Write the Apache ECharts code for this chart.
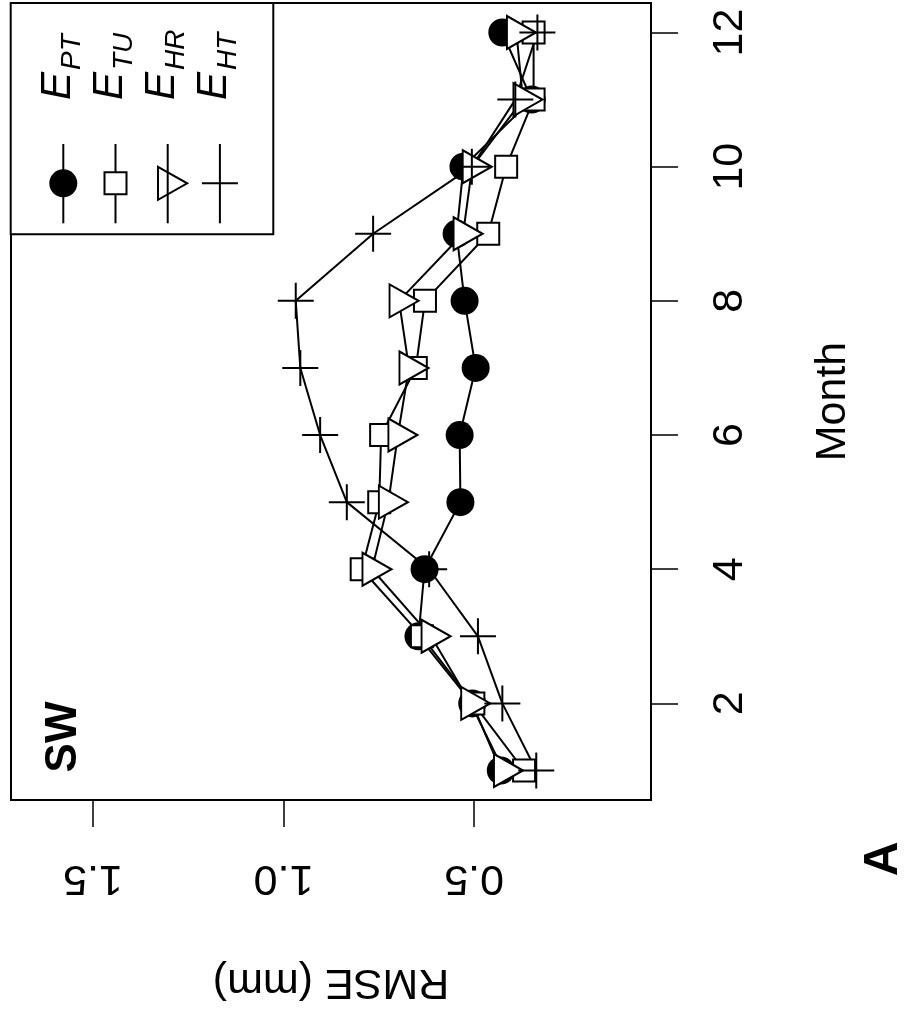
<!DOCTYPE html>
<html>
<head>
<meta charset="utf-8">
<script src="https://cdn.jsdelivr.net/npm/echarts@6/dist/echarts.min.js"></script>
<style>
html,body{margin:0;padding:0;background:#fff;}
#c{width:906px;height:1011px;}
</style>
</head>
<body>
<div id="c"></div>
<script>
// ---- data ----
const months = [1, 2, 3, 4, 5, 6, 7, 8, 9, 10, 11, 12];
const ePT = [0.430, 0.505, 0.646, 0.630, 0.536, 0.538, 0.496, 0.525, 0.546, 0.528, 0.349, 0.426];
const eTU = [0.369, 0.502, 0.637, 0.795, 0.749, 0.744, 0.653, 0.629, 0.463, 0.416, 0.344, 0.344];
const eHR = [0.423, 0.509, 0.613, 0.768, 0.725, 0.700, 0.671, 0.697, 0.529, 0.505, 0.372, 0.389];
const eHT = [0.337, 0.426, 0.490, 0.618, 0.834, 0.904, 0.956, 0.968, 0.765, 0.506, 0.392, 0.334];
const seriesSubs = ['PT', 'TU', 'HR', 'HT'];
const monthTicks = [2, 4, 6, 8, 10, 12];
const rmseTicks = [0.5, 1.0, 1.5];
const panelLabel = 'SW';
const figLabel = 'A';
const xName = 'RMSE (mm)';
const yName = 'Month';

// ---- chart ----
const FONT = '"Liberation Sans", Arial, Helvetica, sans-serif';
const chart = echarts.init(document.getElementById('c'), null, {renderer: 'canvas'});
function pairs(vals) { return months.map((m, i) => [vals[i], m]); }

const TRI = 'path://M0,0L2.3333,1.3472L0,2.6944Z';
const PLUS = 'path://M0,1L2,1M1,0L1,2';
const symDefs = [
  {symbol: 'circle', symbolSize: 28, itemStyle: {color: '#000', borderWidth: 0}},
  {symbol: 'rect', symbolSize: 22, itemStyle: {color: '#fff', borderColor: '#000', borderWidth: 2}},
  {symbol: TRI, symbolSize: [29, 33], symbolOffset: [5, 0], itemStyle: {color: '#fff', borderColor: '#000', borderWidth: 2}},
  {symbol: PLUS, symbolSize: 36, itemStyle: {color: '#000', borderColor: '#000', borderWidth: 2}}
];
const allVals = [ePT, eTU, eHR, eHT];
const series = allVals.map((vals, i) => Object.assign({
  type: 'line',
  name: 'E' + seriesSubs[i],
  data: pairs(vals),
  showAllSymbol: true,
  lineStyle: {color: '#000', width: 2},
  emphasis: {disabled: true},
  animation: false
}, symDefs[i]));

// legend drawn with graphics (rotated like the reference)
const graphics = [];
graphics.push({type: 'rect', z: 100, shape: {x: 10.7, y: 3, width: 262.6, height: 231.3},
  style: {fill: '#fff', stroke: '#000', lineWidth: 2}});
const symY = 183.3;
seriesSubs.forEach((sub, i) => {
  const cx = 63.3 + i * 52.2;
  graphics.push({type: 'line', z: 101, shape: {x1: cx, y1: 144, x2: cx, y2: 223.3}, style: {stroke: '#000', lineWidth: 2}});
  if (i === 0) {
    graphics.push({type: 'circle', z: 102, shape: {cx: cx, cy: symY, r: 14}, style: {fill: '#000'}});
  } else if (i === 1) {
    graphics.push({type: 'rect', z: 102, shape: {x: cx - 11, y: symY - 11, width: 22, height: 22}, style: {fill: '#fff', stroke: '#000', lineWidth: 2}});
  } else if (i === 2) {
    graphics.push({type: 'polygon', z: 102, shape: {points: [[cx - 9.7, symY - 16.5], [cx + 19.5, symY], [cx - 9.7, symY + 16.5]]}, style: {fill: 'none', stroke: '#000', lineWidth: 2}});
  } else {
    graphics.push({type: 'line', z: 102, shape: {x1: cx - 18, y1: symY, x2: cx + 18, y2: symY}, style: {stroke: '#000', lineWidth: 2}});
  }
  graphics.push({type: 'text', z: 103, x: cx - 5.3, y: 100, rotation: Math.PI / 2,
    style: {text: 'E', font: 'italic 42px ' + FONT, fill: '#000', align: 'left', verticalAlign: 'middle'}});
  graphics.push({type: 'text', z: 103, x: cx + 8.7, y: 70, rotation: Math.PI / 2,
    style: {text: sub, font: 'italic 28px ' + FONT, fill: '#000', align: 'left', verticalAlign: 'middle'}});
});
graphics.push({type: 'text', z: 103, x: 64, y: 737, rotation: Math.PI / 2,
  style: {text: panelLabel, font: 'bold 44px ' + FONT, fill: '#000', align: 'center', verticalAlign: 'middle'}});
graphics.push({type: 'text', z: 103, x: 884, y: 859, rotation: Math.PI / 2,
  style: {text: figLabel, font: 'bold 48px ' + FONT, fill: '#000', align: 'center', verticalAlign: 'middle'}});

const axisText = {fontSize: 43, fontFamily: FONT, color: '#000'};
const option = {
  animation: false,
  backgroundColor: '#fff',
  grid: {left: 11, right: 255, top: 3, bottom: 211, show: true, borderColor: '#000', borderWidth: 2,
    containLabel: false, outerBoundsMode: 'none'},
  xAxis: {
    type: 'value', inverse: true, min: 0.036, max: 1.715, position: 'bottom',
    axisLine: {show: true, lineStyle: {color: '#000', width: 2}},
    splitLine: {show: false},
    axisTick: {show: true, inside: false, length: 27, customValues: rmseTicks, lineStyle: {color: '#000', width: 1.5}},
    axisLabel: Object.assign({customValues: rmseTicks, rotate: 180, margin: 56, formatter: v => v.toFixed(1)}, axisText),
    name: xName, nameLocation: 'middle', nameRotate: 180, nameGap: 160, nameTextStyle: axisText
  },
  yAxis: {
    type: 'value', position: 'right', min: 0.56, max: 12.44,
    axisLine: {show: true, lineStyle: {color: '#000', width: 2}},
    splitLine: {show: false},
    axisTick: {show: true, inside: false, length: 27, customValues: monthTicks, lineStyle: {color: '#000', width: 1.5}},
    axisLabel: Object.assign({customValues: monthTicks, rotate: 90, margin: 58}, axisText),
    name: yName, nameLocation: 'middle', nameRotate: 90, nameGap: 161, nameTextStyle: axisText
  },
  series: series,
  graphic: graphics
};
chart.setOption(option);
</script>
</body>
</html>
